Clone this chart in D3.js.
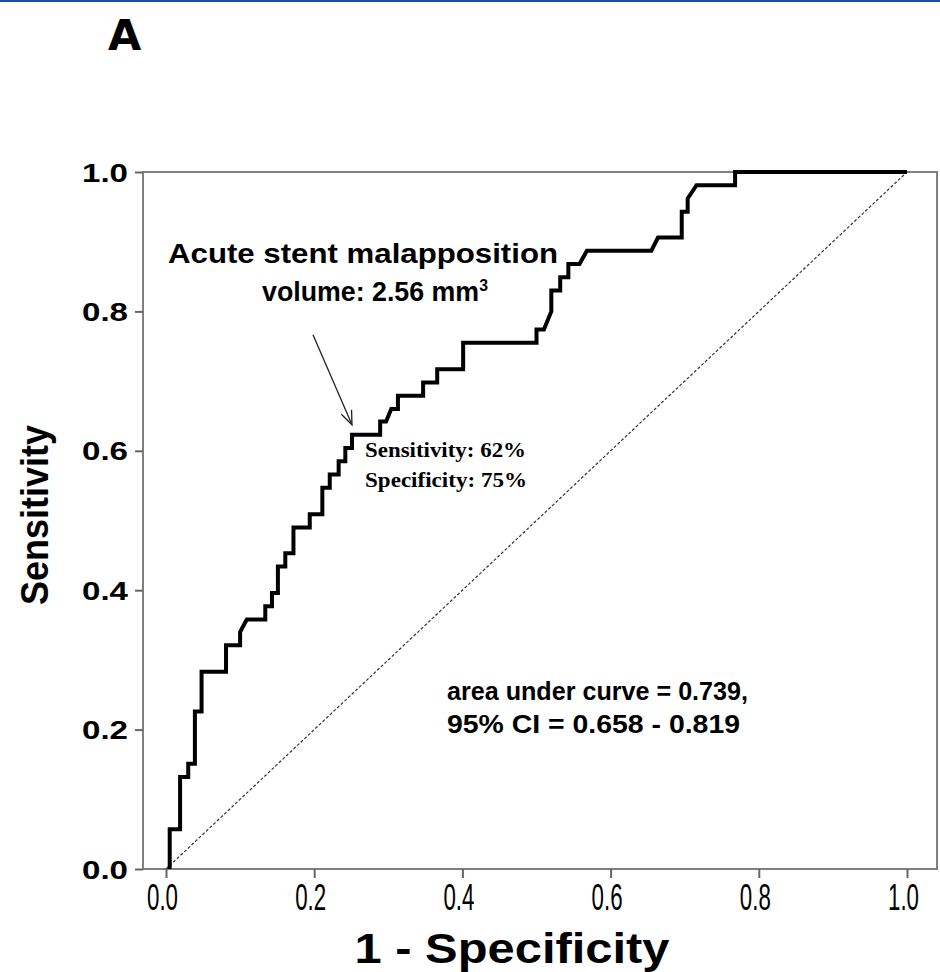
<!DOCTYPE html>
<html>
<head>
<meta charset="utf-8">
<script src="https://cdn.jsdelivr.net/npm/d3@7"></script>
<style>
  body { margin: 0; background: #fff; }
  svg { display: block; }
</style>
</head>
<body>
<script>
// ROC curve vertices (1 - specificity, sensitivity)
var fpr = [0.005, 0.005, 0.019, 0.019, 0.030, 0.030, 0.039, 0.039, 0.048, 0.048,
           0.081, 0.081, 0.100, 0.100, 0.109, 0.134, 0.134, 0.143, 0.143, 0.151,
           0.151, 0.161, 0.161, 0.172, 0.172, 0.194, 0.194, 0.211, 0.211, 0.221,
           0.221, 0.233, 0.233, 0.242, 0.242, 0.251, 0.251, 0.289, 0.289, 0.297,
           0.304, 0.313, 0.313, 0.347, 0.347, 0.366, 0.366, 0.401, 0.401, 0.500,
           0.500, 0.510, 0.520, 0.520, 0.532, 0.532, 0.543, 0.543, 0.558, 0.568,
           0.655, 0.664, 0.696, 0.696, 0.704, 0.704, 0.716, 0.768, 0.768, 1.000];
var tpr = [0.000, 0.057, 0.057, 0.132, 0.132, 0.151, 0.151, 0.226, 0.226, 0.283,
           0.283, 0.321, 0.321, 0.340, 0.358, 0.358, 0.377, 0.377, 0.396, 0.396,
           0.434, 0.434, 0.453, 0.453, 0.490, 0.490, 0.509, 0.509, 0.547, 0.547,
           0.566, 0.566, 0.585, 0.585, 0.604, 0.604, 0.623, 0.623, 0.642, 0.642,
           0.660, 0.660, 0.679, 0.679, 0.698, 0.698, 0.717, 0.717, 0.755, 0.755,
           0.774, 0.774, 0.800, 0.830, 0.830, 0.849, 0.849, 0.868, 0.868, 0.887,
           0.887, 0.906, 0.906, 0.943, 0.943, 0.962, 0.981, 0.981, 1.000, 1.000];
var refLine = [0, 1];
var xTicks = [0, 0.2, 0.4, 0.6, 0.8, 1.0];
var yTicks = [0, 0.2, 0.4, 0.6, 0.8, 1.0];
var cutoff = [0.251, 0.623];

var width = 940, height = 972;
var narrow = "'Liberation Sans Narrow', 'Arial Narrow', 'Liberation Sans', Arial, sans-serif";
var sans = "'Liberation Sans', Arial, sans-serif";
var serif = "'Liberation Serif', 'Times New Roman', serif";

var svg = d3.select("body").append("svg")
  .attr("width", width)
  .attr("height", height);

// thin blue rule at the very top
svg.append("rect")
  .attr("x", 0).attr("y", 0)
  .attr("width", width).attr("height", 2)
  .attr("fill", "#1f4e99");

// panel letter
svg.append("text")
  .attr("x", 108).attr("y", 50)
  .style("font-family", "'DejaVu Sans', sans-serif")
  .style("font-weight", "900")
  .style("font-size", "43px")
  .text("A");

var x = d3.scaleLinear().domain([0, 1]).range([166, 907]);
var y = d3.scaleLinear().domain([0, 1]).range([869, 172]);

// frame
var frameL = 143, frameR = 937;
svg.append("rect")
  .attr("x", frameL).attr("y", y(1))
  .attr("width", frameR - frameL).attr("height", y(0) - y(1))
  .attr("fill", "none")
  .attr("stroke", "#808080")
  .attr("stroke-width", 2);

// axes
var xAxis = svg.append("g")
  .attr("transform", "translate(0," + y(0) + ")")
  .call(d3.axisBottom(x).tickValues(xTicks).tickSize(9).tickPadding(6)
    .tickFormat(d3.format(".1f")));
xAxis.select(".domain").remove();
xAxis.selectAll(".tick line").attr("stroke", "#666").attr("stroke-width", 2);
xAxis.selectAll(".tick text")
  .attr("fill", "#000")
  .attr("dx", -4)
  .attr("textLength", 31)
  .attr("lengthAdjust", "spacingAndGlyphs")
  .style("font-family", narrow)
  .style("font-size", "36px");

var yAxis = svg.append("g")
  .attr("transform", "translate(" + frameL + ",0)")
  .call(d3.axisLeft(y).tickValues(yTicks).tickSize(8).tickPadding(7)
    .tickFormat(d3.format(".1f")));
yAxis.select(".domain").remove();
yAxis.selectAll(".tick line").attr("stroke", "#666").attr("stroke-width", 2);
yAxis.selectAll(".tick text")
  .attr("fill", "#000")
  .attr("dy", "0.36em")
  .attr("textLength", 46)
  .attr("lengthAdjust", "spacingAndGlyphs")
  .style("font-family", sans)
  .style("font-weight", "bold")
  .style("font-size", "25px");

// axis titles
svg.append("text")
  .attr("x", 512).attr("y", 963)
  .attr("text-anchor", "middle")
  .attr("textLength", 315)
  .attr("lengthAdjust", "spacingAndGlyphs")
  .style("font-family", narrow)
  .style("font-weight", "bold")
  .style("font-size", "42px")
  .text("1 - Specificity");

svg.append("text")
  .attr("transform", "translate(48,515) rotate(-90)")
  .attr("text-anchor", "middle")
  .attr("textLength", 180)
  .attr("lengthAdjust", "spacingAndGlyphs")
  .style("font-family", narrow)
  .style("font-weight", "bold")
  .style("font-size", "38px")
  .text("Sensitivity");

// reference diagonal
svg.append("line")
  .attr("x1", x(refLine[0])).attr("y1", y(refLine[0]))
  .attr("x2", x(refLine[1])).attr("y2", y(refLine[1]))
  .attr("stroke", "#333")
  .attr("stroke-width", 1.2)
  .attr("stroke-dasharray", "3,2");

// ROC curve
var pts = fpr.map(function(d, i) { return [d, tpr[i]]; });
var line = d3.line()
  .x(function(d) { return x(d[0]); })
  .y(function(d) { return y(d[1]); });
svg.append("path")
  .datum(pts)
  .attr("d", line)
  .attr("fill", "none")
  .attr("stroke", "#000")
  .attr("stroke-width", 4)
  .attr("stroke-linejoin", "miter");

// cut-off annotation
var ax = x(cutoff[0]), ay = y(cutoff[1]);
svg.append("text")
  .attr("x", 168).attr("y", 263)
  .attr("textLength", 390)
  .attr("lengthAdjust", "spacingAndGlyphs")
  .style("font-family", sans)
  .style("font-weight", "bold")
  .style("font-size", "28px")
  .text("Acute stent malapposition");

var vol = svg.append("text")
  .attr("x", 262).attr("y", 301)
  .attr("textLength", 226)
  .attr("lengthAdjust", "spacingAndGlyphs")
  .style("font-family", sans)
  .style("font-weight", "bold")
  .style("font-size", "27px");
vol.append("tspan").text("volume: 2.56 mm");
vol.append("tspan").attr("dy", -10).style("font-size", "16px").text("3");

// arrow
var ex = ax, ey = ay - 10;
var sx = ax - 39, sy = ay - 100;
svg.append("line")
  .attr("x1", sx).attr("y1", sy).attr("x2", ex).attr("y2", ey)
  .attr("stroke", "#222").attr("stroke-width", 1.3);
var ang = Math.atan2(ey - sy, ex - sx);
var hl = 15, ha = 0.38;
svg.append("path")
  .attr("d", "M" + (ex - hl * Math.cos(ang - ha)) + "," + (ey - hl * Math.sin(ang - ha)) +
    "L" + ex + "," + ey +
    "L" + (ex - hl * Math.cos(ang + ha)) + "," + (ey - hl * Math.sin(ang + ha)))
  .attr("fill", "none").attr("stroke", "#222").attr("stroke-width", 1.3);

svg.append("text")
  .attr("x", 365).attr("y", 457)
  .attr("textLength", 161)
  .attr("lengthAdjust", "spacingAndGlyphs")
  .style("font-family", serif)
  .style("font-weight", "bold")
  .style("font-size", "21px")
  .text("Sensitivity: 62%");
svg.append("text")
  .attr("x", 365).attr("y", 487)
  .attr("textLength", 162)
  .attr("lengthAdjust", "spacingAndGlyphs")
  .style("font-family", serif)
  .style("font-weight", "bold")
  .style("font-size", "21px")
  .text("Specificity: 75%");

// AUC text
svg.append("text")
  .attr("x", 447).attr("y", 700)
  .attr("textLength", 301)
  .attr("lengthAdjust", "spacingAndGlyphs")
  .style("font-family", sans)
  .style("font-weight", "bold")
  .style("font-size", "25px")
  .text("area under curve = 0.739,");
svg.append("text")
  .attr("x", 447).attr("y", 733)
  .attr("textLength", 293)
  .attr("lengthAdjust", "spacingAndGlyphs")
  .style("font-family", sans)
  .style("font-weight", "bold")
  .style("font-size", "25px")
  .text("95% CI = 0.658 - 0.819");
</script>
</body>
</html>
